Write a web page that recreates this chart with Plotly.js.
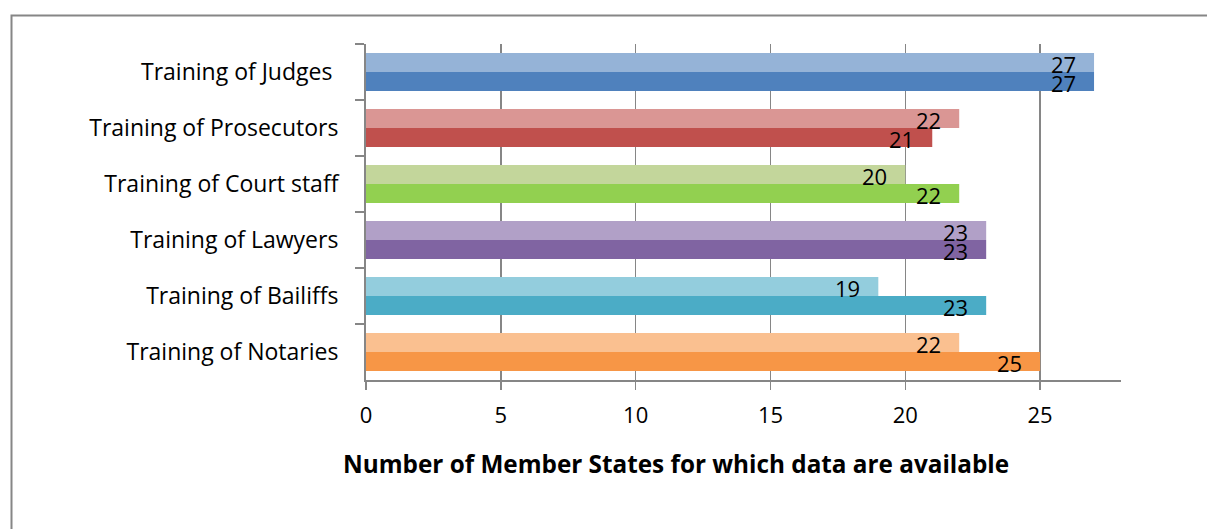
<!DOCTYPE html>
<html><head><meta charset="utf-8">
<script src="https://cdn.plot.ly/plotly-3.0.1.min.js"></script>
<style>body{margin:0;background:#fff}#c{width:1207px;height:529px}</style>
</head><body><div id="c"></div>
<script>
var categories = ["Training of Judges\u00a0", "Training of Prosecutors", "Training of Court staff", "Training of Lawyers", "Training of Bailiffs", "Training of Notaries"];
var seriesA = [27, 22, 20, 23, 19, 22];
var seriesB = [27, 21, 22, 23, 23, 25];
var colorsA = ["#95B3D7", "#DA9694", "#C3D69B", "#B1A0C7", "#93CDDD", "#FAC090"];
var colorsB = ["#4F81BD", "#C0504D", "#92D050", "#8064A2", "#4BACC6", "#F79646"];
var xTicks = [0, 5, 10, 15, 20, 25];
var xTitle = "Number of Member States for which data are available";

var font = "'Open Sans', 'Liberation Sans', sans-serif";
function tr(vals, cols) {
  return {
    type: "bar", orientation: "h", x: vals, y: categories,
    marker: {color: cols, line: {width: 0}},
    hoverinfo: "none", showlegend: false
  };
}
var data = [tr(seriesA, colorsA), tr(seriesB, colorsB)];
var L = 366, R = 1121, T = 44, B = 380;
var pw = R - L, ph = B - T;
function px(x) { return (x - L) / pw; }
function py(y) { return 1 - (y - T) / ph; }

var anns = [];
function addLabels(vals, shift) {
  vals.forEach(function (v, i) {
    anns.push({
      xref: "x", yref: "y", x: v, y: categories[i], xanchor: "right", yanchor: "middle",
      xshift: -16, yshift: shift, text: String(v), showarrow: false,
      font: {family: font, size: 22, color: "#000"}
    });
  });
}
addLabels(seriesA, 8);
addLabels(seriesB, -11);
anns.push({
  xref: "paper", yref: "paper", x: px(676), y: py(463), xanchor: "center", yanchor: "middle",
  text: "<b>" + xTitle + "</b>", showarrow: false,
  font: {family: font, size: 24.3, color: "#000"}
});

var layout = {
  width: 1207, height: 529,
  margin: {l: L, r: 1207 - R, t: T, b: 529 - B, pad: 0},
  paper_bgcolor: "#fff", plot_bgcolor: "#fff",
  barmode: "group", bargap: 0.32, bargroupgap: 0,
  font: {family: font, size: 22, color: "#000"},
  xaxis: {
    range: [0, 28], tickvals: xTicks, ticktext: xTicks.map(String),
    showgrid: true, gridcolor: "#868686", gridwidth: 1.5,
    showline: true, linecolor: "#868686", linewidth: 1.5,
    ticks: "outside", ticklen: 8, tickcolor: "#868686", tickwidth: 1.5,
    zeroline: false, fixedrange: true, ticklabelstandoff: 7,
    tickfont: {family: font, size: 22, color: "#000"}
  },
  yaxis: {
    autorange: "reversed", type: "category",
    showline: true, linecolor: "#868686", linewidth: 2,
    ticks: "outside", tickson: "boundaries", ticklen: 9, tickcolor: "#868686", tickwidth: 1.5,
    showgrid: false, zeroline: false, fixedrange: true,
    ticklabelstandoff: 21,
    tickfont: {family: font, size: 23, color: "#000"}
  },
  annotations: anns,
  shapes: [{
    type: "rect", xref: "paper", yref: "paper",
    x0: px(11.5), x1: px(1215), y0: py(15.5), y1: py(540),
    line: {color: "#868686", width: 2}, fillcolor: "rgba(0,0,0,0)", layer: "below"
  }]
};
Plotly.newPlot("c", data, layout, {displayModeBar: false, staticPlot: true});
</script></body></html>
